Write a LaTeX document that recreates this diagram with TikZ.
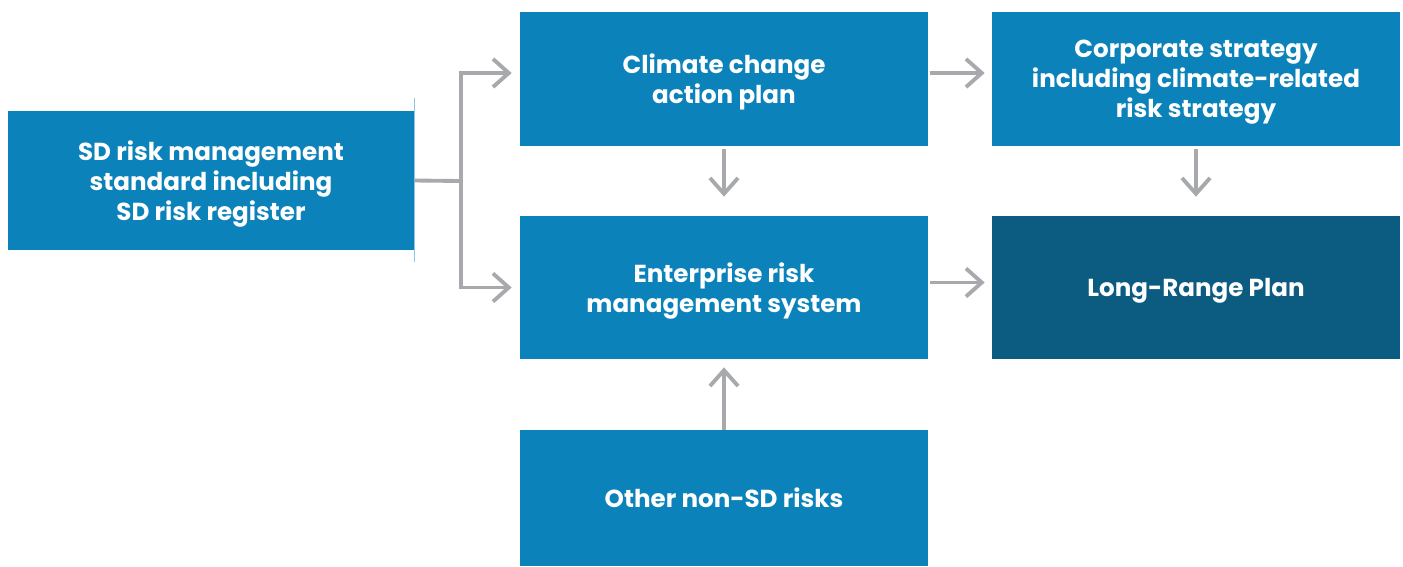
\documentclass[tikz,border=0pt]{standalone}
\usepackage{fontspec}
\setmainfont{Poppins}
\usetikzlibrary{arrows.meta}

\definecolor{boxblue}{HTML}{0B83BA}
\definecolor{boxdark}{HTML}{0B5C80}
\definecolor{linkgrey}{HTML}{A8A9AD}
\definecolor{edgeblue}{HTML}{8CC6E2}

\tikzset{
  block/.style={fill=boxblue, text=white, align=center, inner sep=0pt,
    font=\bfseries\fontsize{14}{17}\selectfont, text depth=0pt,
    minimum width=8.16cm, minimum height=2.7cm},
  link/.style={draw=linkgrey, line width=2.2pt,
    -{Straight Barb[length=9pt,width=16pt]}}
}

\begin{document}
\begin{tikzpicture}[x=0.02cm,y=-0.02cm]
\useasboundingbox (0,0) rectangle (1403,566);
\node[block, minimum width=8.12cm, minimum height=2.78cm] (sd) at (211,180.5)
  {SD risk management\\standard including\\SD risk register};
\node[block] (climate) at (724,79) {Climate change\\action plan};
\node[block] (corporate) at (1196,79)
  {Corporate strategy\\including climate-related\\risk strategy};
\node[block, minimum height=2.86cm] (erm) at (724,287.5)
  {Enterprise risk\\management system};
\node[block, fill=boxdark, minimum height=2.86cm] (lrp) at (1196,287.5)
  {Long-Range Plan};
\node[block, minimum height=2.72cm] (other) at (724,498) {Other non-SD risks};
\draw[edgeblue, line width=0.5pt] ([yshift=0.26cm]sd.north east)
  -- ([yshift=-0.24cm]sd.south east);
% branch from the standard
\coordinate (split) at (461,181);
\draw[linkgrey, line width=2.2pt] (sd.east) -- (split);
\draw[link, shorten >=0.16cm] (split) |- ([yshift=0.12cm]climate.west);
\draw[link, shorten >=0.16cm] (split) |- (erm.west);
\draw[link, shorten <=0.04cm, shorten >=0.14cm] ([yshift=0.12cm]climate.east)
  -- ([yshift=0.12cm]corporate.west);
\draw[link, shorten <=0.04cm, shorten >=0.38cm] (climate) -- (erm);
\draw[link, shorten <=0.04cm, shorten >=0.38cm] (corporate) -- (lrp);
\draw[link, shorten <=0.04cm, shorten >=0.14cm] ([yshift=0.1cm]erm.east)
  -- ([yshift=0.1cm]lrp.west);
\draw[link, shorten >=0.16cm] (other) -- (erm);
\end{tikzpicture}
\end{document}
